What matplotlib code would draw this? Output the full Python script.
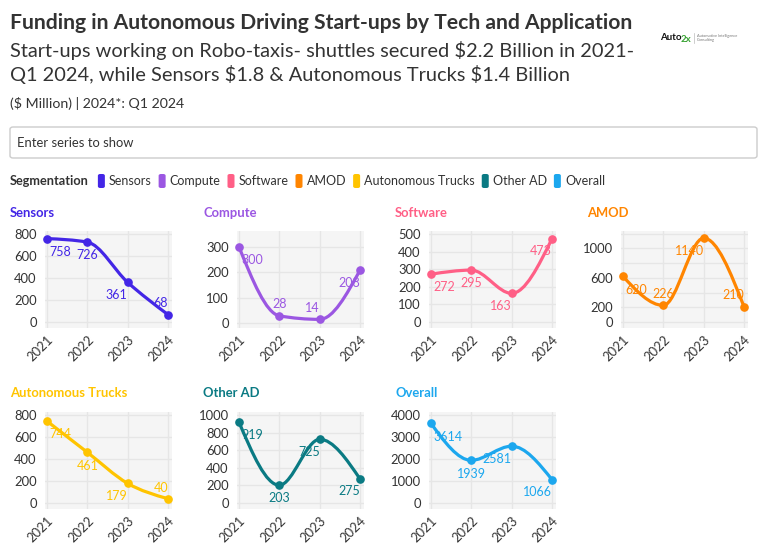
import matplotlib
matplotlib.use("Agg")
import matplotlib.pyplot as plt
from matplotlib.path import Path
from matplotlib.patches import PathPatch, FancyBboxPatch
import numpy as np

plt.rcParams['font.family'] = ['Lato', 'DejaVu Sans']

# data ($ Million)
years = [2021, 2022, 2023, 2024]
series_names = ['Sensors', 'Compute', 'Software', 'AMOD', 'Autonomous Trucks', 'Other AD', 'Overall']
sensors = [758, 726, 361, 68]
compute = [300, 28, 14, 208]
software = [272, 295, 163, 473]
amod = [620, 226, 1140, 210]
trucks = [744, 461, 179, 40]
other_ad = [919, 203, 725, 275]
overall = [3614, 1939, 2581, 1066]
series_values = [sensors, compute, software, amod, trucks, other_ad, overall]

colors = ['#4326e6', '#9b57e2', '#ff5f86', '#ff8500', '#ffc400', '#0a7a83', '#1ca7ee']

# per panel axis setup: (y max shown, tick step, labelled ticks or None)
axis_setup = [
    (827, 200, None),
    (363, 100, None),
    (517, 100, None),
    (1236, 200, [0, 200, 600, 1000]),
    (827, 200, None),
    (1035, 200, None),
    (4130, 1000, None),
]
tick_top = [800, 300, 500, 1200, 800, 1000, 4000]

# where each value label sits relative to its point
label_pos = [
    ['br', 'b', 'bl', 'al'],
    ['br', 'a', 'al', 'bl'],
    ['br', 'b', 'bl', 'bl'],
    ['br', 'a', 'bl', 'al'],
    ['br', 'b', 'bl', 'al'],
    ['br', 'b', 'bl', 'bl'],
    ['br', 'b', 'bl', 'bl'],
]
offsets = {
    'br': (1.5, -9.5, 'left'),
    'b': (0, -9.5, 'center'),
    'bl': (0, -9.0, 'right'),
    'a': (0, 8.5, 'center'),
    'al': (0, 8.0, 'right'),
}

W, H = 768, 555
fig = plt.figure(figsize=(W / 100, H / 100), dpi=100)
fig.patch.set_facecolor('white')


def px(x, y):
    # figure pixel coords (top-left origin) -> figure fraction
    return x / W, 1 - y / H


def monotone_path(x, y):
    # d3 curveMonotoneX as cubic bezier segments
    x = np.asarray(x, float)
    y = np.asarray(y, float)
    n = len(x)
    h = np.diff(x)
    s = np.diff(y) / h
    t = np.zeros(n)
    for i in range(1, n - 1):
        p = (s[i - 1] * h[i] + s[i] * h[i - 1]) / (h[i - 1] + h[i])
        t[i] = (np.sign(s[i - 1]) + np.sign(s[i])) * min(abs(s[i - 1]), abs(s[i]), 0.5 * abs(p))
    t[0] = (3 * s[0] - t[1]) / 2
    t[-1] = (3 * s[-1] - t[-2]) / 2
    verts = [(x[0], y[0])]
    codes = [Path.MOVETO]
    for i in range(n - 1):
        dx = (x[i + 1] - x[i]) / 3
        verts += [(x[i] + dx, y[i] + dx * t[i]), (x[i + 1] - dx, y[i + 1] - dx * t[i + 1]), (x[i + 1], y[i + 1])]
        codes += [Path.CURVE4] * 3
    return Path(verts, codes)


# header
tx, ty = px(10, 23)
fig.text(tx, ty, 'Funding in Autonomous Driving Start-ups by Tech and Application',
         fontsize=15.2, fontweight='bold', color='#333333', va='center', ha='left')
tx, ty = px(10, 50)
fig.text(tx, ty, r'Start-ups working on Robo-taxis- shuttles secured \$2.2 Billion in 2021-',
         fontsize=14.4, color='#333333', va='center', ha='left')
tx, ty = px(10, 75)
fig.text(tx, ty, r'Q1 2024, while Sensors \$1.8 & Autonomous Trucks \$1.4 Billion',
         fontsize=14.4, color='#333333', va='center', ha='left')
tx, ty = px(10, 104)
fig.text(tx, ty, r'(\$ Million) | 2024*: Q1 2024', fontsize=10.2, color='#333333', va='center', ha='left')

# logo
tx, ty = px(660, 38)
fig.text(tx, ty, 'Auto', fontsize=7, fontweight='bold', color='#111111', va='center', ha='left')
tx, ty = px(681, 39)
fig.text(tx, ty, '2x', fontsize=7, fontweight='bold', color='#3aa335', va='center', ha='left')
fig.add_artist(plt.Line2D([694 / W, 694 / W], [1 - 33 / H, 1 - 43 / H], color='#bbbbbb', lw=0.5))
tx, ty = px(697, 38)
fig.text(tx, ty, 'Automotive Intelligence\nConsulting', fontsize=2.8, color='#777777',
         va='center', ha='left', linespacing=1.2)

# search box
bx, by = px(10, 158)
box = FancyBboxPatch((bx, by), 747 / W, 31 / H, boxstyle='round,pad=0,rounding_size=0.004',
                     transform=fig.transFigure, facecolor='white', edgecolor='#cccccc', lw=1)
fig.add_artist(box)
tx, ty = px(17, 143)
fig.text(tx, ty, 'Enter series to show', fontsize=9.4, color='#333333', va='center', ha='left')

# legend row
renderer = fig.canvas.get_renderer()
tx, ty = px(10, 181)
t = fig.text(tx, ty, 'Segmentation', fontsize=9.2, fontweight='bold', color='#333333', va='center', ha='left')
x_cur = t.get_window_extent(renderer).x1 + 9
for name, col in zip(series_names, colors):
    sx, sy = px(x_cur, 188)
    sq = FancyBboxPatch((sx, sy), 7 / W, 14 / H, boxstyle='round,pad=0,rounding_size=0.003',
                        transform=fig.transFigure, facecolor=col, edgecolor='none')
    fig.add_artist(sq)
    tx, ty = px(x_cur + 11, 181)
    t = fig.text(tx, ty, name, fontsize=9.0, color='#333333', va='center', ha='left')
    x_cur = t.get_window_extent(renderer).x1 + 7

# small multiples
col_left = [45, 237, 429, 621]
title_left = [10, 203, 395, 587]
row_top = [231, 412]
title_y = [213, 393]
ax_w, ax_h = 127, 97

for k, (name, vals, col) in enumerate(zip(series_names, series_values, colors)):
    r, c = divmod(k, 4)
    left, bottom = px(col_left[c], row_top[r] + ax_h)
    ax = fig.add_axes([left, bottom, ax_w / W, ax_h / H])
    ax.set_facecolor('#f5f5f5')
    for sp in ax.spines.values():
        sp.set_visible(False)

    ymax, step, shown = axis_setup[k]
    ticks = np.arange(0, tick_top[k] + 1, step)
    ax.set_ylim(-0.067 * tick_top[k], ymax)
    ax.set_xlim(years[0] - 0.05, years[-1] + 0.1)
    ax.set_yticks(ticks)
    ax.set_yticklabels([str(int(v)) if (shown is None or v in shown) else '' for v in ticks])
    ax.set_xticks(years)
    ax.set_xticklabels([str(y) for y in years], rotation=45, ha='right', rotation_mode='anchor')
    ax.tick_params(axis='both', length=0, labelsize=9.4, labelcolor='#333333')
    ax.tick_params(axis='y', pad=6)
    ax.tick_params(axis='x', pad=4)
    ax.grid(True, color='#e6e6e6', lw=1)
    ax.set_axisbelow(True)

    ax.add_patch(PathPatch(monotone_path(years, vals), facecolor='none', edgecolor=col, lw=2.3,
                           capstyle='round', joinstyle='round', zorder=3))
    ax.plot(years, vals, 'o', color=col, markersize=5.2, zorder=4, clip_on=False)

    for x, v, pos in zip(years, vals, label_pos[k]):
        dx, dy, ha = offsets[pos]
        ax.annotate(str(v), (x, v), xytext=(dx, dy), textcoords='offset points',
                    ha=ha, va='center', fontsize=9, color=col, zorder=5)

    tx, ty = px(title_left[c], title_y[r])
    fig.text(tx, ty, name, fontsize=9.4, fontweight='bold', color=col, va='center', ha='left')

fig.savefig('out.png', dpi=100, facecolor='white')
